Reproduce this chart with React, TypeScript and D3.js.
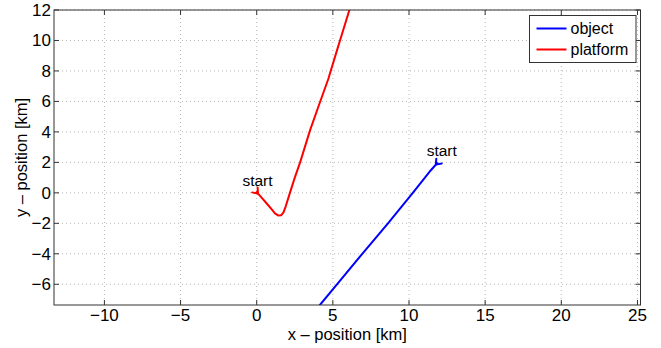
import { useMemo } from "react";
import * as d3 from "d3";

// x/y positions in km
const platformX = [0.0, 0.35, 0.7, 1.0, 1.2, 1.4, 1.6, 1.75, 1.9, 2.15, 2.5, 2.85, 3.5, 4.1, 4.7, 5.3, 5.47, 6.1, 6.2];
const platformY = [0.05, -0.35, -0.75, -1.1, -1.35, -1.48, -1.47, -1.3, -0.9, -0.1, 1.0, 2.0, 4.1, 5.8, 7.47, 9.45, 10.0, 12.05, 12.4];

const objectX = [11.85, 11.45, 10.25, 8.62, 6.93, 5.27, 4.15, 3.8];
const objectY = [1.95, 1.5, 0.0, -2.0, -4.0, -6.0, -7.36, -7.8];

const xTicks = [-10, -5, 0, 5, 10, 15, 20, 25];
const yTicks = [-6, -4, -2, 0, 2, 4, 6, 8, 10, 12];

const seriesNames = ["object", "platform"];
const seriesColors = ["#0000ff", "#ff0000"];

// "start" label anchors (km)
const startLabelX = [12.15, 0.05];
const startLabelY = [2.4, 0.45];

const W = 661;
const H = 348;
const margin = { top: 10, right: 20.5, bottom: 43, left: 54 };
const font = "'Liberation Sans', Arial, Helvetica, sans-serif";

const fmt = (v: number) => (v < 0 ? "\u2212" + Math.abs(v) : String(v));

export default function App() {
  const x = d3.scaleLinear().domain([-13.31, 25.2]).range([margin.left, W - margin.right]);
  const y = d3.scaleLinear().domain([-7.36, 12]).range([H - margin.bottom, margin.top]);

  const series = useMemo(
    () => [
      d3.zip(objectX, objectY) as [number, number][],
      d3.zip(platformX, platformY) as [number, number][],
    ],
    []
  );

  const line = d3
    .line<[number, number]>()
    .x((d) => x(d[0]))
    .y((d) => y(d[1]))
    .curve(d3.curveLinear);

  const [x0, x1] = x.range();
  const [y1, y0] = y.range();
  const tickLen = 5;
  const axisColor = "#333";

  // arrowhead at the start of each track, pointing along the direction of travel
  const arrow = (pts: [number, number][]) => {
    const ax = x(pts[0][0]);
    const ay = y(pts[0][1]);
    const bx = x(pts[1][0]);
    const by = y(pts[1][1]);
    const ang = Math.atan2(by - ay, bx - ax);
    const tx = ax + 2 * Math.cos(ang);
    const ty = ay + 2 * Math.sin(ang);
    const len = 6;
    const spread = 0.65;
    const p1 = [tx - len * Math.cos(ang - spread), ty - len * Math.sin(ang - spread)];
    const p2 = [tx - len * Math.cos(ang + spread), ty - len * Math.sin(ang + spread)];
    return `M${p1[0]},${p1[1]}L${tx},${ty}L${p2[0]},${p2[1]}`;
  };

  return (
    <svg
      width={W}
      height={H}
      style={{ position: "absolute", left: 0, top: 0, background: "#fff" }}
      fontFamily={font}
    >
      <defs>
        <clipPath id="plot">
          <rect x={x0} y={y0} width={x1 - x0} height={y1 - y0} />
        </clipPath>
      </defs>

      {/* grid */}
      <g stroke="#b8b8b8" strokeWidth={1} strokeDasharray="1,3">
        {xTicks.map((t) => (
          <line key={"gx" + t} x1={x(t)} x2={x(t)} y1={y0} y2={y1} />
        ))}
        {yTicks.map((t) => (
          <line key={"gy" + t} x1={x0} x2={x1} y1={y(t)} y2={y(t)} />
        ))}
      </g>

      {/* tracks */}
      <g clipPath="url(#plot)" fill="none" strokeWidth={2} strokeLinejoin="round" strokeLinecap="round">
        {series.map((pts, i) => (
          <g key={i} stroke={seriesColors[i]}>
            <path d={line(pts) || ""} />
            <path d={arrow(pts)} />
          </g>
        ))}
      </g>

      {/* start labels */}
      {startLabelX.map((lx, i) => (
        <text key={"s" + i} x={x(lx)} y={y(startLabelY[i])} fontSize={15.5} textAnchor="middle" fill="#000">
          start
        </text>
      ))}

      {/* box */}
      <rect x={x0} y={y0} width={x1 - x0} height={y1 - y0} fill="none" stroke={axisColor} strokeWidth={1} />

      {/* ticks */}
      <g stroke={axisColor} strokeWidth={1}>
        {xTicks.map((t) => (
          <g key={"tx" + t}>
            <line x1={x(t)} x2={x(t)} y1={y1} y2={y1 - tickLen} />
            <line x1={x(t)} x2={x(t)} y1={y0} y2={y0 + tickLen} />
          </g>
        ))}
        {yTicks.map((t) => (
          <g key={"ty" + t}>
            <line x1={x0} x2={x0 + tickLen} y1={y(t)} y2={y(t)} />
            <line x1={x1} x2={x1 - tickLen} y1={y(t)} y2={y(t)} />
          </g>
        ))}
      </g>

      {/* tick labels */}
      <g fontSize={17} fill="#000">
        {xTicks.map((t) => (
          <text key={"lx" + t} x={x(t)} y={y1 + 16} textAnchor="middle">
            {fmt(t)}
          </text>
        ))}
        {yTicks.map((t) => (
          <text key={"ly" + t} x={x0 - 3} y={y(t)} dy="0.35em" textAnchor="end">
            {fmt(t)}
          </text>
        ))}
      </g>

      {/* axis labels */}
      <text x={(x0 + x1) / 2} y={340} fontSize={16.5} textAnchor="middle" fill="#000">
        x – position [km]
      </text>
      <text
        transform={`translate(27,${(y0 + y1) / 2}) rotate(-90)`}
        fontSize={16.5}
        textAnchor="middle"
        fill="#000"
      >
        y – position [km]
      </text>

      {/* legend */}
      <g transform="translate(529.5,15.5)">
        <rect width={106.5} height={47} fill="#fff" stroke={axisColor} strokeWidth={1} />
        {seriesNames.map((name, i) => (
          <g key={name} transform={`translate(0,${13 + i * 21})`}>
            <line x1={7} x2={37} y1={0} y2={0} stroke={seriesColors[i]} strokeWidth={2} />
            <text x={41} y={0} dy="0.35em" fontSize={16} fill="#000">
              {name}
            </text>
          </g>
        ))}
      </g>
    </svg>
  );
}
